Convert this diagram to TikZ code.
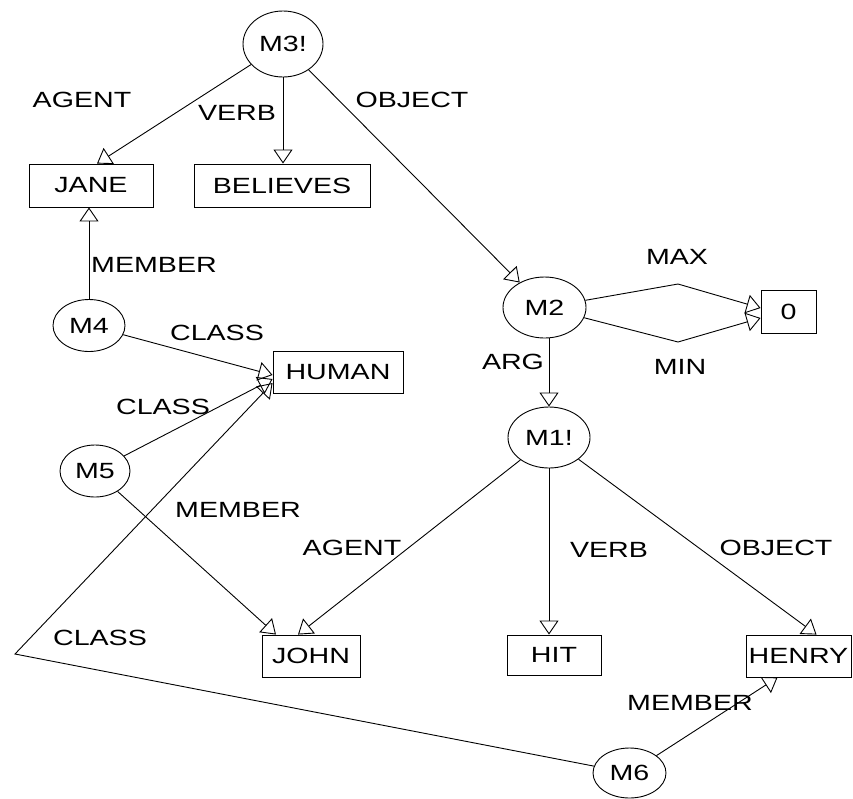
\documentclass[tikz,border=0pt]{standalone}
\usepackage{fontspec}
\setmainfont[FakeStretch=1.3]{Liberation Sans}
\usetikzlibrary{arrows.meta,shapes.geometric,calc}
\begin{document}
\begin{tikzpicture}[x=1pt,y=-1pt,
  every node/.style={font=\fontsize{22}{26}\selectfont},
  ell/.style={draw, ellipse, inner sep=0pt, line width=0.9pt},
  box/.style={draw, rectangle, inner sep=0pt, line width=0.9pt},
  lab/.style={inner sep=0pt},
  arr/.style={line width=0.9pt, -{Triangle[open,length=14pt,width=19pt]}},
  ln/.style={line width=0.9pt}]
\useasboundingbox (0,0) rectangle (853,798);
% nodes
\node[ell, minimum width=80pt, minimum height=66pt] (M3) at (283,44) {M3!};
\node[box, minimum width=124pt, minimum height=43pt] (JANE) at (91,185.5) {JANE};
\node[box, minimum width=176pt, minimum height=43pt] (BELIEVES) at (282,185.5) {BELIEVES};
\node[ell, minimum width=83pt, minimum height=61pt] (M2) at (544.5,307.5) {M2};
\node[box, minimum width=55pt, minimum height=43pt] (zero) at (788.5,311.5) {0};
\node[ell, minimum width=82pt, minimum height=61pt] (M1) at (549,437.5) {M1!};
\node[ell, minimum width=72pt, minimum height=52pt] (M4) at (89,325.5) {M4};
\node[box, minimum width=130pt, minimum height=42pt] (HUMAN) at (338,372) {HUMAN};
\node[ell, minimum width=70pt, minimum height=52pt] (M5) at (95,471) {M5};
\node[box, minimum width=98pt, minimum height=42pt] (JOHN) at (311,656) {JOHN};
\node[box, minimum width=94pt, minimum height=40pt] (HIT) at (554,655) {HIT};
\node[box, minimum width=105pt, minimum height=42pt] (HENRY) at (798.5,656) {HENRY};
\node[ell, minimum width=73pt, minimum height=50pt] (M6) at (629.5,773) {M6};
\coordinate (corner) at (15,654);
\coordinate (maxbend) at (678,284);
\coordinate (minbend) at (678,342);
% connectors
\draw[arr] (M3) -- ([xshift=6pt]JANE.north);
\draw[arr] (M3.south) -- (M3.south |- BELIEVES.north);
\draw[arr] (M3) -- (M2);
\draw[arr] (M2) -- (maxbend) -- ([yshift=3.5pt]zero.west);
\draw[arr] (M2) -- (minbend) -- ([yshift=-6.5pt]zero.west);
\draw[arr] (M1.north |- M2.south) -- (M1.north);
\draw[arr] (M1) -- ([xshift=-13pt]JOHN.north);
\draw[arr] (M1.south) -- (M1.south |- HIT.north);
\draw[arr] (M1) -- ([xshift=18pt]HENRY.north);
\draw[arr] (M4.north) -- (M4.north |- JANE.south);
\draw[arr] (M4) -- ([yshift=-3pt]HUMAN.west);
\draw[arr] (M5) -- ([yshift=-7pt]HUMAN.west);
\draw[arr] (M5) -- ([xshift=-35pt]JOHN.north);
\draw[arr] (M6) -- (corner) -- ([yshift=-11pt]HUMAN.west);
\draw[arr] (M6) -- ([xshift=-21pt]HENRY.south);
% labels
\node[lab] (l1) at (82,100) {AGENT};
\node[lab] (l2) at (237,113) {VERB};
\node[lab] (l3) at (412,100) {OBJECT};
\node[lab] (l4) at (677,257) {MAX};
\node[lab] (l5) at (680,367) {MIN};
\node[lab] (l6) at (513,362) {ARG};
\node[lab] (l7) at (154,265) {MEMBER};
\node[lab] (l8) at (217,333) {CLASS};
\node[lab] (l9) at (163,407) {CLASS};
\node[lab] (l10) at (238,510) {MEMBER};
\node[lab] (l11) at (352,548) {AGENT};
\node[lab] (l12) at (609,550) {VERB};
\node[lab] (l13) at (776,548) {OBJECT};
\node[lab] (l14) at (100,638) {CLASS};
\node[lab] (l15) at (690,703) {MEMBER};
\end{tikzpicture}
\end{document}
